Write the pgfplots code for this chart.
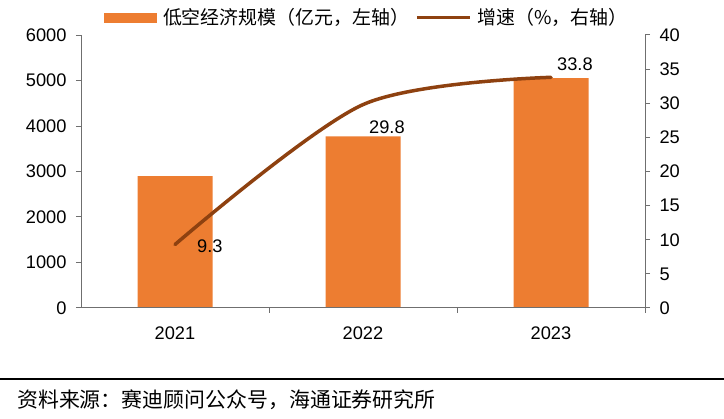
\documentclass[border=0pt]{standalone}
\usepackage{pgfplots}
\pgfplotsset{compat=1.18}
\usepackage{fontspec}
\setmainfont{Liberation Sans}
\newfontfamily\cjk{Noto Sans CJK SC}
\definecolor{barorange}{HTML}{ED7D31}
\definecolor{linebrown}{HTML}{8E4110}
\definecolor{axisgray}{HTML}{6F6F6F}

\begin{document}
\begin{tikzpicture}
\path[use as bounding box] (0,0) rectangle (724bp,419bp);
\pgfplotsset{
  common/.style={
    at={(81bp,111bp)}, anchor=south west,
    scale only axis, width=564bp, height=273bp,
    xmin=-0.5, xmax=2.5,
    axis line style={axisgray, line width=1bp},
    tick style={axisgray, line width=1bp},
    tick align=outside,
    major tick length=5bp,
    tick label style={font=\fontsize{18.3}{20}\selectfont, /pgf/number format/assume math mode=true},
    clip=false,
  }
}
\begin{axis}[common,
  axis y line*=left, axis x line*=bottom,
  ymin=0, ymax=6000, ytick={0,1000,...,6000},
  scaled y ticks=false,
  yticklabel style={/pgf/number format/1000 sep={}, xshift=-6bp},
  xtick={0,1,2}, xticklabels={2021,2022,2023},
  xticklabel style={yshift=-10bp},
  xtick style={draw=none},
  legend columns=2,
  legend cell align=left,
  legend style={draw=none, fill=none, inner sep=0pt, outer sep=0pt,
    anchor=west, at={(axis description cs:0.0408,1.064)},
    font=\cjk\fontsize{19}{21}\selectfont,
    nodes={inner sep=0pt},
    /tikz/every odd column/.append style={column sep=6bp},
    /tikz/every even column/.append style={column sep=6bp}},
]
\addplot[ybar, bar width=75bp, fill=barorange, draw=none,
  legend image code/.code={\fill[barorange] (0bp,-5bp) rectangle (53bp,5bp);}]
  coordinates {(0,2900) (1,3770) (2,5050)};
\addlegendentry{低空经济规模（亿元，左轴）}
\addlegendimage{legend image code/.code={\draw[linebrown, line width=3.5bp] (0bp,0bp) -- (53bp,0bp);}}
\addlegendentry{增速（\%，右轴）}
\end{axis}
\begin{axis}[common,
  axis y line*=right, axis x line*=bottom,
  ymin=0, ymax=40, ytick={0,5,...,40},
  yticklabel style={xshift=6bp},
  xtick={0.5,1.5,2.5}, xticklabels={},
]
\addplot[smooth, linebrown, line width=3.5bp, line cap=round]
  coordinates {(0,9.3) (1,29.8) (2,33.8)};
\node[anchor=west, inner sep=0pt, font=\fontsize{18.3}{20}\selectfont, xshift=22bp, yshift=-1.5bp] at (axis cs:0,9.3) {9.3};
\node[anchor=west, inner sep=0pt, font=\fontsize{18.3}{20}\selectfont, xshift=6bp, yshift=-23bp] at (axis cs:1,29.8) {29.8};
\node[anchor=west, inner sep=0pt, font=\fontsize{18.3}{20}\selectfont, xshift=6bp, yshift=13bp] at (axis cs:2,33.8) {33.8};
\end{axis}
\draw[line width=2bp, black] (0bp,40bp) -- (724bp,40bp);
\node[anchor=west, inner sep=0pt, font=\cjk\fontsize{21}{23}\selectfont] at (17bp,19bp) {资料来源：赛迪顾问公众号，海通证券研究所};
\end{tikzpicture}
\end{document}
